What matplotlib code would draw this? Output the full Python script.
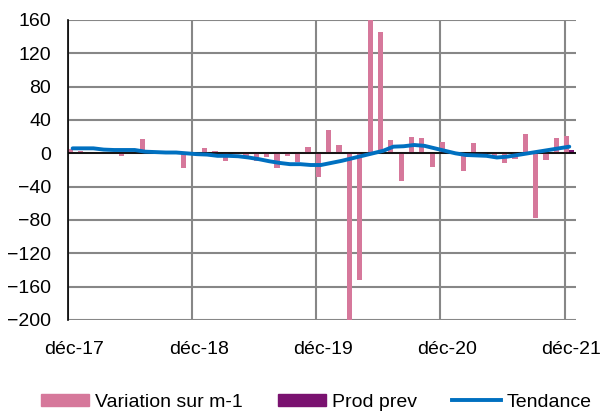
import numpy as np
import matplotlib
matplotlib.use("Agg")
import matplotlib.pyplot as plt
from matplotlib.patches import Patch
from matplotlib.lines import Line2D

plt.rcParams['font.family'] = ['Liberation Sans', 'DejaVu Sans']

# monthly data, déc-17 .. déc-21
variation = [5, 3, 0, 0, 0, -3, 0, 17, 0, 0, 0, -18,
             1, 6, 3, -9, -1, -3, -9, -4, -18, -3, -10, 8,
             -29, 28, 10, -205, -152, 170, 145, 16, -33, 20, 18, -16,
             14, -1, -21, 12, -1, -3, -12, -7, 23, -78, -8, 18, 21]
prod_prev = [np.nan] * 48 + [3.5]
tendance = [6, 6, 6, 4.5, 4, 4, 4, 2, 1.5, 1, 1, 0,
            -1, -1.5, -3, -3, -3.5, -5, -7, -9.5, -11.5, -13, -13, -14,
            -14, -11.5, -9, -6, -3, 0, 3, 8, 8.5, 10, 9, 6,
            3, 0, -2, -2.5, -3, -5, -4, -2, 0, 2, 4, 6, 8]
tick_labels = ['déc-17', 'déc-18', 'déc-19', 'déc-20', 'déc-21']

pink = '#D6789B'
purple = '#7A1270'
blue = '#0070C0'
grid = '#878787'

fig = plt.figure(figsize=(6, 4.12), dpi=100)
ax = fig.add_axes([68/600, 1-320/412, 508/600, 300/412])

x = np.arange(len(variation))
ax.bar(x + 0.2, variation, width=0.5, color=pink, zorder=2)
ax.bar(x + 0.7, prod_prev, width=0.5, color=purple, zorder=2)
ax.plot(x + 0.45, tendance, color=blue, lw=2.8, solid_capstyle='round', zorder=4)
ax.axhline(0, color='black', lw=1.2, zorder=3)

ax.set_xlim(0, 49.1)
ax.set_ylim(-200, 160)
ax.set_yticks(np.arange(-200, 161, 40))
ax.set_xticks(np.arange(0, 49, 12), minor=True)
ax.set_xticks(np.arange(0, 49, 12) + 0.62)
ax.set_xticklabels(tick_labels)
ax.tick_params(axis='x', which='both', length=0, pad=15, labelsize=14)
ax.tick_params(axis='y', length=0, pad=12, labelsize=14)
ax.grid(True, axis='y', color=grid, lw=1.5, zorder=0)
ax.grid(True, axis='x', which='minor', color=grid, lw=1.5, zorder=0)
ax.grid(False, axis='x', which='major')
for s in ['top', 'right', 'bottom']:
    ax.spines[s].set_visible(False)
ax.spines['left'].set_color('black')
ax.spines['left'].set_linewidth(1.2)
ax.spines['left'].set_zorder(5)

handles = [Patch(color=pink), Patch(color=purple), Line2D([], [], color=blue, lw=2.8)]
fig.legend(handles, ['Variation sur m-1', 'Prod prev', 'Tendance'],
           loc='center', bbox_to_anchor=(0.527, 0.024), ncol=3, frameon=False,
           fontsize=14, handlelength=2.5, handleheight=0.6, columnspacing=1.8,
           handletextpad=0.3)

fig.savefig('out.png', dpi=100)
